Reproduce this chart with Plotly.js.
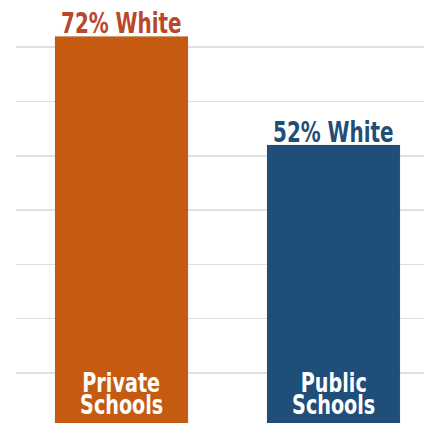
<!DOCTYPE html>
<html>
<head>
<meta charset="utf-8">
<script src="https://cdn.plot.ly/plotly-3.0.1.min.js"></script>
<style>html,body{margin:0;padding:0;background:#fff;}#chart{width:424px;height:423px;}</style>
</head>
<body>
<div id="chart"></div>
<script>
const categories = ['Private Schools', 'Public Schools'];
const labelLines = [['Private', 'Schools'], ['Public', 'Schools']];
const whiteShare = [72, 52];
const topLabels = ['72% White', '52% White'];
const barColors = ['#C55A11', '#1F4E79'];
const textColors = ['#B9472A', '#1F4E79'];

const xs = categories.map((c, i) => i);
const FONT = '"Liberation Sans Narrow", "DejaVu Sans Condensed", "Roboto Condensed", sans-serif';

const trace = {
  type: 'bar',
  x: xs,
  y: whiteShare,
  width: 0.627,
  marker: {color: barColors, line: {color: 'rgba(0,0,0,0.07)', width: 1}},
  hoverinfo: 'skip',
  text: categories,
  textposition: 'none'
};

const annotations = [];
xs.forEach((x, i) => {
  annotations.push({
    x: x, y: whiteShare[i], xref: 'x', yref: 'y',
    text: '<b>' + topLabels[i] + '</b>',
    showarrow: false, yanchor: 'bottom', yshift: -6,
    font: {family: FONT, size: 28, color: textColors[i]}
  });
  annotations.push({
    x: x, y: 0, xref: 'x', yref: 'paper',
    text: '<b>' + labelLines[i][0] + '</b>',
    showarrow: false, yanchor: 'bottom', yshift: 23,
    font: {family: FONT, size: 27, color: '#FFFFFF'}
  });
  annotations.push({
    x: x, y: 0, xref: 'x', yref: 'paper',
    text: '<b>' + labelLines[i][1] + '</b>',
    showarrow: false, yanchor: 'bottom', yshift: 1,
    font: {family: FONT, size: 27, color: '#FFFFFF'}
  });
});

const layout = {
  width: 424, height: 423,
  margin: {l: 16, r: 0, t: 0, b: 0, pad: 0},
  paper_bgcolor: '#FFFFFF', plot_bgcolor: '#FFFFFF',
  showlegend: false,
  xaxis: {range: [-0.4976, 1.4269], showgrid: false, zeroline: false, showticklabels: false, ticks: '', showline: false, fixedrange: true},
  yaxis: {range: [0.8, 78.7], dtick: 10, tick0: 0, showgrid: true, gridcolor: '#E0E0E0', gridwidth: 1.5, zeroline: false, showticklabels: false, ticks: '', showline: false, fixedrange: true},
  annotations: annotations
};

Plotly.newPlot('chart', [trace], layout, {displayModeBar: false, staticPlot: true}).then(() => {
  // condense the bold labels horizontally to mimic a narrow typeface
  document.querySelectorAll('#chart .annotation-text').forEach(el => {
    const w = el.getComputedTextLength();
    if (w > 0) {
      el.setAttribute('textLength', (w * 0.79).toFixed(1));
      el.setAttribute('lengthAdjust', 'spacingAndGlyphs');
    }
  });
});
</script>
</body>
</html>
